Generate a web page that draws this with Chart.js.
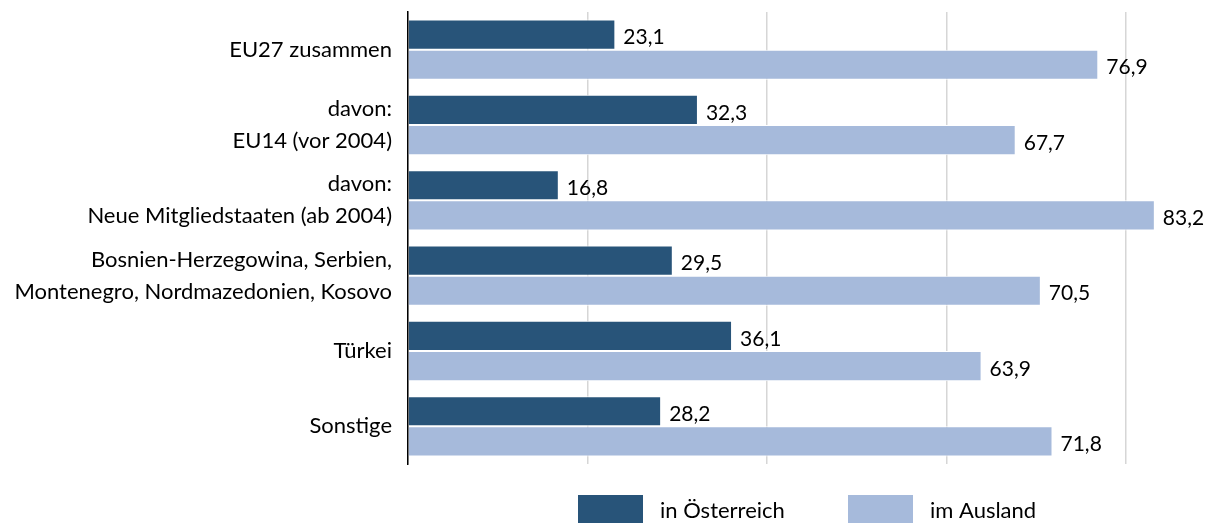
<!DOCTYPE html>
<html><head><meta charset="utf-8">
<script src="https://cdn.jsdelivr.net/npm/chart.js@4"></script>
<style>html,body{margin:0;padding:0;background:#fff}#wrap{width:1214px;height:525px}</style>
</head><body><div id="wrap"><canvas id="c" width="1214" height="525"></canvas></div>
<script>
const categories = [
  "EU27 zusammen",
  ["davon:", "EU14 (vor 2004)"],
  ["davon:", "Neue Mitgliedstaaten (ab 2004)"],
  ["Bosnien-Herzegowina, Serbien,", "Montenegro, Nordmazedonien, Kosovo"],
  "Türkei",
  "Sonstige"
];
const seriesNames = ["in Österreich", "im Ausland"];
const inOesterreich = [23.1, 32.3, 16.8, 29.5, 36.1, 28.2];
const imAusland = [76.9, 67.7, 83.2, 70.5, 63.9, 71.8];
const xTicks = [0, 20, 40, 60, 80];

const FONT = "Lato, 'Open Sans', sans-serif";
const colors = ["#285479", "#a6badb"];

const valueLabels = {
  id: "valueLabels",
  afterDatasetsDraw(chart) {
    const ctx = chart.ctx;
    ctx.save();
    ctx.font = "21px " + FONT;
    ctx.fillStyle = "#000";
    ctx.textBaseline = "middle";
    ctx.textAlign = "left";
    chart.data.datasets.forEach((ds, i) => {
      chart.getDatasetMeta(i).data.forEach((bar, j) => {
        ctx.fillText(ds.data[j].toFixed(1).replace(".", ","), bar.x + 8, bar.y + 3);
      });
    });
    ctx.restore();
  }
};

const customLegend = {
  id: "customLegend",
  afterDraw(chart) {
    const ctx = chart.ctx;
    ctx.save();
    ctx.font = "22px " + FONT;
    ctx.textBaseline = "middle";
    const xs = [578, 848];
    chart.data.datasets.forEach((ds, i) => {
      ctx.fillStyle = ds.backgroundColor;
      ctx.fillRect(xs[i], 495, 65, 28);
      ctx.fillStyle = "#000";
      ctx.fillText(ds.label, xs[i] + 82, 511);
    });
    ctx.restore();
  }
};

new Chart(document.getElementById("c"), {
  type: "bar",
  data: {
    labels: categories,
    datasets: [
      { label: seriesNames[0], data: inOesterreich, backgroundColor: colors[0], borderColor: "#ffffff", borderWidth: {top: 1, bottom: 1, right: 1, left: 0}, borderSkipped: "left" },
      { label: seriesNames[1], data: imAusland, backgroundColor: colors[1], borderColor: "#ffffff", borderWidth: {top: 1, bottom: 1, right: 1, left: 0}, borderSkipped: "left" }
    ]
  },
  options: {
    indexAxis: "y",
    responsive: false,
    animation: false,
    devicePixelRatio: 1,
    layout: { padding: { top: 12, right: 43, bottom: 61, left: 0 } },
    plugins: { legend: { display: false }, tooltip: { enabled: false } },
    datasets: { bar: { categoryPercentage: 0.8, barPercentage: 1.0 } },
    scales: {
      x: {
        min: 0, max: 85,
        afterBuildTicks(scale) { scale.ticks = xTicks.map(v => ({ value: v })); },
        ticks: { display: false },
        grid: { color: "#d6d6d6", lineWidth: 1.5, drawTicks: false },
        border: { display: false }
      },
      y: {
        afterFit(scale) { scale.width = 408; scale.paddingTop = 0; scale.paddingBottom = 0; },
        ticks: { color: "#000", font: { family: FONT, size: 22, lineHeight: 1.45 }, padding: 16 },
        grid: { display: false, drawTicks: false },
        border: { display: true, color: "#000", width: 1.5 }
      }
    }
  },
  plugins: [valueLabels, customLegend]
});
</script></body></html>
